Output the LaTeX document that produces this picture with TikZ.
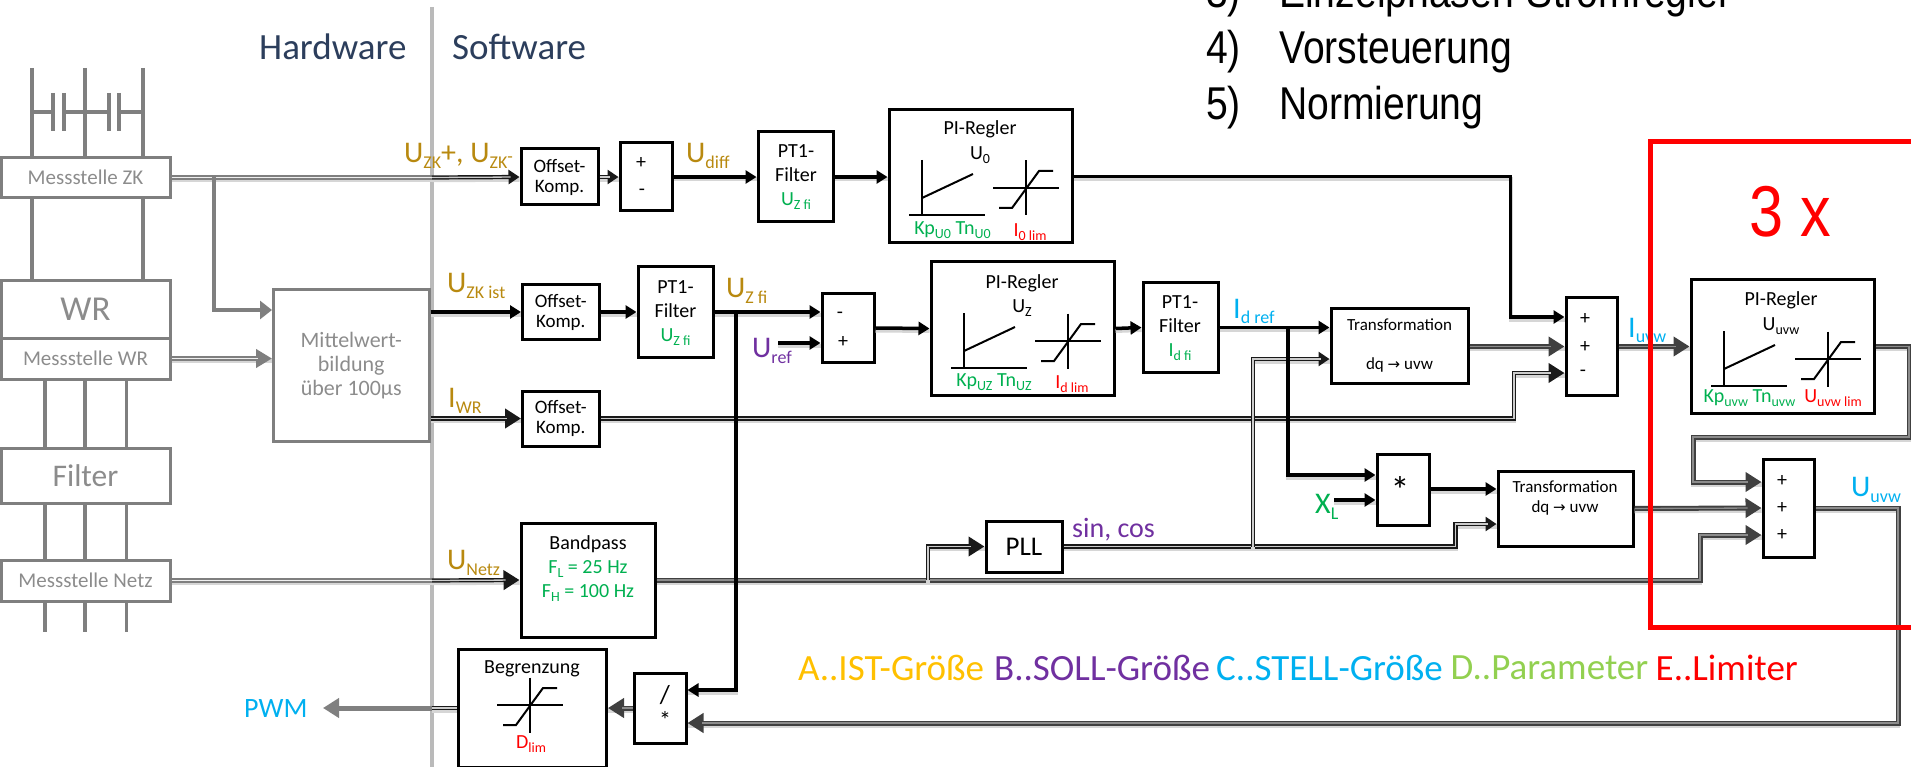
\documentclass[tikz,border=0pt]{standalone}
\usepackage{fontspec}
\setmainfont{Carlito}
\newfontfamily\arialn[FakeStretch=0.85]{Liberation Sans}
\newfontfamily\djv{DejaVu Sans}
\usetikzlibrary{arrows.meta,calc}
\definecolor{gold}{HTML}{B8890F}
\definecolor{purp}{HTML}{7030A0}
\definecolor{cyanb}{HTML}{00B0F0}
\definecolor{grn}{HTML}{00B050}
\definecolor{lgrn}{HTML}{92D050}
\definecolor{amber}{HTML}{FFC000}
\definecolor{redd}{HTML}{FF0000}
\definecolor{navyt}{HTML}{2C3E5C}
\definecolor{hwg}{HTML}{7F7F7F}
\definecolor{hwt}{HTML}{8C8C8C}
\newcommand\fs[1]{\fontsize{#1}{#1}\selectfont}
\newcommand\sbx[2]{\raisebox{-.2em}{\fontsize{#1}{#1}\selectfont #2}}
\newcommand\bgl[2]{{\fs{30}#1\sbx{18}{#2}}}
\newcommand\sml[2]{{\fs{20}#1\sbx{14}{#2}}}
\newcommand\bx[7]{\node[#1,minimum width={(#5-#3)*1pt},minimum height={(#6-#4)*1pt}] (#2) at ({(#3+#5)/2},{(#4+#6)/2}) {#7};}
\newcommand\limsym[2]{%
  \draw[sym] (#1,#2-27.5) -- (#1,#2+27.5);
  \draw[sym] (#1-33,#2) -- (#1+33,#2);
  \draw[sym] (#1-27,#2+20) -- (#1-14,#2+20) -- (#1+13,#2-17) -- (#1+27,#2-17);}
\newcommand\pisym[2]{%
  \draw[sym] (#1+33,#2+51) -- (#1+33,#2+106);
  \draw[sym] (#1+20,#2+106) -- (#1+96,#2+106);
  \draw[sym] (#1+33,#2+89) -- (#1+84,#2+65);
  \limsym{#1+137}{#2+79}}
\tikzset{
  x=1pt,y=-1pt,
  sym/.style={draw=black,line width=2pt},
  bbox/.style={draw=black,line width=3pt,inner sep=0pt,align=center,font=\fontsize{19}{20}\selectfont},
  gbox/.style={draw=hwg,line width=3pt,inner sep=0pt,align=center,text=hwt,font=\fontsize{21}{22}\selectfont},
  hw/.style={draw=hwg,line width=3.5pt},
  shadowline/.style={preaction={draw=black!16,line width=#1,-,transform canvas={yshift=-2.5pt}}},
  sgl/.style={draw=black,line width=3.5pt,shadowline=4pt},
  sarr/.style={sgl,-{Triangle[length=11pt,width=13pt]}},
  dline/.style n args={4}{draw=#1,line width=#3,shadowline=4.5pt,postaction={draw=#2,line width=1.3pt,-,shorten >=#4}},
  dbl/.style={dline={black!90}{black!20}{4.2pt}{0pt}},
  heavy/.style={dline={black!75}{black!45}{5pt}{0pt}},
  darr/.style={dline={black!90}{black!20}{4.2pt}{14pt},-{Triangle[length=16pt,width=19pt]}},
  harr/.style={dline={black!75}{black!45}{5pt}{14pt},-{Triangle[length=16pt,width=19pt]}},
  dsarr/.style={dline={black!90}{black!20}{4.2pt}{9pt},-{Triangle[length=11pt,width=14pt]}},
  gdbl/.style={dline={hwg}{black!6}{4.4pt}{0pt}},
  gdarr/.style={dline={hwg}{black!6}{4.4pt}{14pt},-{Triangle[length=16pt,width=18pt]}},
  gsgl/.style={draw=hwg,line width=4pt},
  lab/.style={inner sep=0pt,anchor=base west},
  txt/.style={inner sep=0pt,align=center,font=\fontsize{20}{24}\selectfont},
  head/.style={inner sep=0pt,anchor=west,text=navyt,font=\fontsize{37}{37}\selectfont},
  lst/.style={inner sep=0pt,anchor=base west,font=\arialn\fontsize{46}{46}\selectfont},
  leg/.style={inner sep=0pt,anchor=west,font=\fontsize{37}{37}\selectfont},
}
\begin{document}
\begin{tikzpicture}
\useasboundingbox (0,0) rectangle (1911,767);
\clip (0,0) rectangle (1911,767);

% divider
\coordinate (divtop) at (432,7);
\coordinate (divbot) at (432,767);
\draw[draw=black!27,line width=4.5pt] (divtop) -- (divbot);

% headings and list
\node[head] (hwh) at (259,47) {Hardware};
\node[head] (swh) at (452,47) {Software};
\node[lst] (l3a) at (1206,7.5) {3)};
\node[lst] (l3b) at (1279,7.5) {Einzelphasen-Stromregler};
\node[lst] (l4a) at (1206,63.5) {4)};
\node[lst] (l4b) at (1279,63.5) {Vorsteuerung};
\node[lst] (l5a) at (1206,119.5) {5)};
\node[lst] (l5b) at (1279,119.5) {Normierung};

% hardware chain
\bx{gbox}{msz}{1}{157.5}{170}{197.5}{Messstelle ZK}
\bx{gbox,font=\fontsize{35}{35}\selectfont}{wr}{1}{281}{170}{338}{WR}
\bx{gbox}{msw}{1}{338}{170}{379}{Messstelle WR}
\bx{gbox,font=\fontsize{31.5}{32}\selectfont}{fil}{1}{448}{170}{503}{Filter}
\bx{gbox}{msn}{1}{560}{170}{601}{Messstelle Netz}
\foreach \x in {32,85,143} \draw[hw] (\x,68) -- (\x,0 |- msz.north);
\foreach \x in {32,143} \draw[hw] (\x,0 |- msz.south) -- (\x,0 |- wr.north);
\foreach \x in {45,85,126.5} {
  \draw[hw] (\x,0 |- msw.south) -- (\x,0 |- fil.north);
  \draw[hw] (\x,0 |- fil.south) -- (\x,0 |- msn.north);
  \draw[hw] (\x,0 |- msn.south) -- (\x,632);
}
% capacitors
\coordinate (capl) at (32,112);
\coordinate (capr) at (143,112);
\draw[hw] (capl) -- (53,112) (64,112) -- (109,112) (119,112) -- (capr);
\foreach \x in {53,64,109,119} \draw[hw] (\x,93) -- (\x,131);

\bx{gbox,font=\fontsize{22}{24}\selectfont}{mw}{273.5}{290}{429}{441}{Mittelwert-\\bildung\\über 100µs}

% black boxes
\bx{bbox}{off1}{521}{149}{598}{205}{Offset-\\Komp.}
\bx{bbox}{off2}{522.5}{285}{599}{339}{Offset-\\Komp.}
\bx{bbox}{off3}{522.5}{391}{599}{446}{Offset-\\Komp.}
\bx{bbox}{sum1}{620}{143}{672}{211}{}
\bx{bbox}{pt1}{758}{132}{833}{222}{}
\bx{bbox}{pia}{889}{110}{1072}{243}{}
\bx{bbox}{pt2}{638}{267}{713}{357}{}
\bx{bbox}{sum2}{822}{294}{874}{362}{}
\bx{bbox}{pib}{931}{262}{1114}{395}{}
\bx{bbox}{pt3}{1143}{283}{1218}{372}{}
\bx{bbox,font=\fontsize{17}{39}\selectfont}{tr1}{1331}{308}{1468}{383}{Transformation\\dq {\djv\fontsize{15}{15}\selectfont →} uvw}
\bx{bbox}{sum3}{1566}{298}{1617}{395}{}
\bx{bbox}{pic}{1691}{280}{1874}{413}{}
\bx{bbox}{sum4}{1763}{459}{1814}{557}{}
\bx{bbox}{tr2}{1498}{471}{1633}{546}{}
\bx{bbox}{mul}{1377}{454}{1429}{525}{}
\bx{bbox,font=\fontsize{27}{27}\selectfont}{pll}{986}{521}{1062}{572}{PLL}
\bx{bbox}{bp}{521}{523}{655}{637}{}
\bx{bbox}{beg}{458}{649}{606.5}{767}{}
\bx{bbox}{md}{634}{673}{686}{743}{}

% box texts
\node[txt] (s1a) at (641,163) {+};
\node[txt] (s1b) at (642,192) {-};
\node[txt] (pt1t) at (796,177) {PT1-\\Filter\\\textcolor{grn}{\sml{U}{Z fi}}};
\node[txt] (pt2t) at (675.5,313) {PT1-\\Filter\\\textcolor{grn}{\sml{U}{Z fi}}};
\node[txt] (pt3t) at (1180,328) {PT1-\\Filter\\\textcolor{grn}{\sml{I}{d fi}}};
\node[txt] (s2a) at (840,315) {-};
\node[txt] (s2b) at (843,342) {+};
\node[txt] (s3a) at (1585,319) {+};
\node[txt] (s3b) at (1585,347) {+};
\node[txt] (s3c) at (1583,373) {-};
\node[txt] (s4a) at (1782,481) {+};
\node[txt] (s4b) at (1782,508) {+};
\node[txt] (s4c) at (1782,535) {+};
\node[txt,font=\fontsize{17}{20}\selectfont] (tr2t) at (1565,498) {Transformation\\dq {\djv\fontsize{15}{15}\selectfont →} uvw};
\node[txt,font=\fontsize{38}{38}\selectfont] (mult) at (1400,490) {*};
\node[txt,font=\fontsize{26}{26}\selectfont] (mds) at (665,695) {/};
\node[txt,font=\fontsize{24}{24}\selectfont] (mdm) at (665,720) {*};
\node[txt] (bp1) at (588,544) {Bandpass};
\node[txt,text=grn] (bp2) at (588,569) {F\sbx{14}{L} = 25 Hz};
\node[txt,text=grn] (bp3) at (588,593) {F\sbx{14}{H} = 100 Hz};
\node[txt] (begt) at (532,669) {Begrenzung};
\limsym{530}{705}
\node[txt,text=redd] (begl) at (531,744) {\sml{D}{lim}};

% PI blocks
\node[txt] (pat) at (980,129) {PI-Regler};
\node[txt] (pau) at (980,155) {\sml{U}{0}};
\pisym{889}{109}
\node[txt,text=grn] (pak) at (952.5,230) {\sml{Kp}{U0} \sml{Tn}{U0}};
\node[txt,text=redd] (pal) at (1030,232) {\sml{I}{0 lim}};
\node[txt] (pbt) at (1022,283) {PI-Regler};
\node[txt] (pbu) at (1022,308) {\sml{U}{Z}};
\pisym{931}{262}
\node[txt,text=grn] (pbk) at (994,382) {\sml{Kp}{UZ} \sml{Tn}{UZ}};
\node[txt,text=redd] (pbl) at (1072,384) {\sml{I}{d lim}};
\node[txt] (pct) at (1781,300) {PI-Regler};
\node[txt] (pcu) at (1781,326) {\sml{U}{uvw}};
\pisym{1691}{280}
\node[txt,text=grn] (pck) at (1749.5,398) {\sml{Kp}{uvw} \sml{Tn}{uvw}};
\node[txt,text=redd] (pcl) at (1833,398) {\sml{U}{uvw lim}};

% signal labels
\node[lab,text=gold] (luz) at (404,163) {\bgl{U}{ZK}{\fs{30}+, }\bgl{U}{ZK}{\fs{18}-}};
\node[lab,text=gold] (luzi) at (447,293) {\bgl{U}{ZK ist}};
\node[lab,text=gold] (liwr) at (448,407) {\bgl{I}{WR}};
\node[lab,text=gold] (lun) at (447,569) {\bgl{U}{Netz}};
\node[lab,text=gold] (lud) at (686,163) {\bgl{U}{diff}};
\node[lab,text=gold] (luf) at (726,298) {\bgl{U}{Z fi}};
\node[lab,text=purp] (lur) at (752,357) {\bgl{U}{ref}};
\node[lab,text=cyanb] (lid) at (1233,318) {\bgl{I}{d ref}};
\node[lab,text=grn] (lxl) at (1315,513) {\bgl{X}{L}};
\node[lab,text=cyanb] (liu) at (1628,337) {\bgl{I}{uvw}};
\node[lab,text=cyanb] (luu) at (1851,496) {\bgl{U}{uvw}};
\node[lab,text=purp,font=\fontsize{28}{28}\selectfont] (lsc) at (1072,537) {sin, cos};
\node[lab,text=cyanb,font=\fontsize{28}{28}\selectfont] (pwm) at (244,717) {PWM};

% legend
\node[leg,text=amber] (lega) at (798,668) {A..IST-Größe};
\node[leg,text=purp] (legb) at (994,668) {B..SOLL-Größe};
\node[leg,text=cyanb] (legc) at (1216,668) {C..STELL-Größe};
\node[leg,text=lgrn] (legd) at (1450.5,668) {D..Parameter};
\node[leg,text=redd] (lege) at (1655.5,668) {E..Limiter};

% named way points
\coordinate (divz) at (432,177.5);
\coordinate (brz) at (214,177.5);
\coordinate (divn) at (432,580.5);
\coordinate (divp) at (432,708);
\coordinate (pwtip) at (323,708);
\coordinate (zfi) at (736,312);
\coordinate (urefs) at (778,343);
\coordinate (c0) at (1510.6,317);
\coordinate (c3) at (1514,373);
\coordinate (idb) at (1288,328);
\coordinate (sc) at (1253,546.5);
\coordinate (t1k) at (1253,359);
\coordinate (t2k) at (1455.5,524);
\coordinate (plk) at (928,580);
\coordinate (xls) at (1334,500);
\coordinate (pc1) at (1909,437);
\coordinate (pc2) at (1693,437);
\coordinate (pc3) at (1693,482);
\coordinate (bpk) at (1700,535);
\coordinate (uk) at (1898,723);

% hardware-side connectors
\draw[gdbl] (msz.east) -- (divz);
\draw[gsgl,-{Triangle[length=12pt,width=18pt]}] (brz) |- (mw.west |- 0,310);
\draw[gdarr] (msw.east) -- (mw.west |- msw.east);
\draw[gdbl] (msn.east) -- (divn);
\draw[gsgl,draw=black!50,line width=5pt,-{Triangle[length=16pt,width=19pt]}] (divp) -- (pwtip);
\draw[dbl] (beg.west) -- (divp);

% double connectors
\draw[dsarr] (divz) -- (off1.west);
\draw[dsarr] (off1.east) -- (sum1.west);
\draw[darr] (mw.east |- off3.west) -- (off3.west);
\draw[darr] (off3.east) -| (c3) -- (sum3.west |- c3);
\draw[darr] (divn) -- (bp.west);
\draw[harr] (bp.east) -| (bpk) -- (sum4.west |- bpk);
\draw[darr] (plk) |- (pll.west);
\draw[dsarr] (pll.east) -| (t2k) -- (tr2.west |- t2k);
\draw[dsarr] (sc) -- (t1k) -- (tr1.west |- t1k);
\draw[harr] (tr1.east |- sum3.west) -- (sum3.west);
\draw[harr] (sum3.east) -- (pic.west);
\draw[harr] (pic.east) -| (pc1) -- (pc2) -- (pc3) -- (sum4.west |- pc3);
\draw[harr] (tr2.east) -- (sum4.west);
\draw[harr] (sum4.east) -| (uk) -- (md.east |- uk);
\draw[harr] (md.west) -- (beg.east);

% single connectors
\draw[sarr] (sum1.east) -- (pt1.west);
\draw[sarr] (pt1.east) -- (pia.west |- pt1.east);
\draw[sarr] (pia.east) -| (c0) -- (sum3.west |- c0);
\draw[sarr] (mw.east |- off2.west) -- (off2.west);
\draw[sarr] (off2.east) -- (pt2.west);
\draw[sarr] (pt2.east) -- (sum2.west |- pt2.east);
\draw[sarr] (urefs) -- (sum2.west |- urefs);
\draw[sarr] (sum2.east) -- (pib.west);
\draw[sarr] (pib.east) -- (pt3.west);
\draw[sarr] (pt3.east) -- (tr1.west |- pt3.east);
\draw[sarr] (idb) |- (mul.west |- 0,475);
\draw[sarr] (zfi) |- (md.east |- 0,690);
\draw[sarr] (xls) -- (mul.west |- xls);
\draw[sarr] (mul.east |- 0,489) -- (tr2.west |- 0,489);

% red frame (open to the right edge)
\coordinate (rtl) at (1650,142);
\coordinate (rbl) at (1650,627);
\draw[draw=redd,line width=5pt] (1920,142) -- (rtl) -- (rbl) -- (1920,627);
\node[inner sep=0pt,anchor=base west,text=redd,font=\arialn\fontsize{72}{72}\selectfont] (three) at (1749,237) {3 x};
\end{tikzpicture}
\end{document}
